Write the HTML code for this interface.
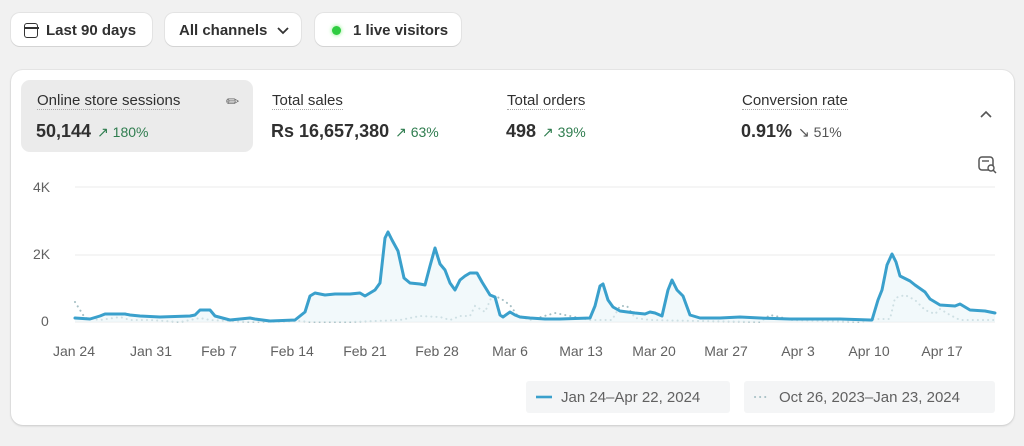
<!DOCTYPE html><html><head><style>
body{margin:0;width:1024px;height:446px;background:#f1f1f1;font-family:"Liberation Sans",sans-serif;position:relative;overflow:hidden;color:#303030}
.btn{position:absolute;top:13px;height:33px;background:#fff;border-radius:9px;box-shadow:0 1px 0 #d4d4d4,0 0 0 1px #e3e3e3;font-size:15px;font-weight:bold;line-height:35px;color:#303030}
.card{position:absolute;left:11px;top:70px;width:1003px;height:355px;background:#fff;border-radius:12px;box-shadow:0 1px 2px #ccc,0 0 0 1px #e6e6e6}
.t{position:absolute;font-size:15px;color:#303030}
.t u{text-decoration:none;border-bottom:1px dotted #aaa}
.v{position:absolute;font-size:18px;font-weight:bold;color:#303030}
.p{font-size:14px;font-weight:normal;color:#2f7d4f;margin-left:6px}
.ax{position:absolute;font-size:14px;color:#616161}
</style></head><body>
<div class="btn" style="left:11px;width:141px"><span style="position:absolute;left:13px;top:10px;width:12px;height:13px;border:1.6px solid #333;border-radius:3px"></span><span style="position:absolute;left:13px;top:14px;width:15px;height:1.6px;background:#333"></span><span style="position:absolute;left:35px">Last 90 days</span></div>
<div class="btn" style="left:165px;width:136px"><span style="position:absolute;left:14px">All channels</span><svg style="position:absolute;left:112px;top:12px" width="12" height="10"><polyline points="1,3 6,8 11,3" fill="none" stroke="#333" stroke-width="1.8"/></svg></div>
<div class="btn" style="left:315px;width:146px"><span style="position:absolute;left:17px;top:13px;width:9px;height:9px;border-radius:50%;background:#2ecc40;box-shadow:0 0 4px #7e7"></span><span style="position:absolute;left:38px">1 live visitors</span></div>
<div class="card"></div>
<div style="position:absolute;left:21px;top:80px;width:232px;height:72px;background:#ebebeb;border-radius:9px"></div>
<div class="t" style="left:37px;top:92px"><u>Online store sessions</u></div>
<div style="position:absolute;left:226px;top:92px;font-size:16px;color:#666">&#9999;&#xFE0E;</div>
<div class="v" style="left:36px;top:121px">50,144<span class="p">&#8599; 180%</span></div>
<div class="t" style="left:272px;top:92px"><u>Total sales</u></div>
<div class="v" style="left:271px;top:121px">Rs 16,657,380<span class="p">&#8599; 63%</span></div>
<div class="t" style="left:507px;top:92px"><u>Total orders</u></div>
<div class="v" style="left:506px;top:121px">498<span class="p">&#8599; 39%</span></div>
<div class="t" style="left:742px;top:92px"><u>Conversion rate</u></div>
<div class="v" style="left:741px;top:121px">0.91%<span class="p" style="color:#555">&#8600; 51%</span></div>
<svg style="position:absolute;left:979px;top:110px" width="14" height="10"><polyline points="2,7 7,2 12,7" fill="none" stroke="#555" stroke-width="1.6"/></svg>
<svg style="position:absolute;left:978px;top:156px" width="20" height="18"><rect x="1" y="1" width="14" height="13" rx="3" fill="none" stroke="#555" stroke-width="1.5"/><line x1="4" y1="5" x2="11" y2="5" stroke="#555" stroke-width="1.4"/><circle cx="13" cy="12" r="3" fill="#fff" stroke="#555" stroke-width="1.4"/><line x1="15" y1="14" x2="18" y2="17" stroke="#555" stroke-width="1.5"/></svg>
<div class="ax" style="left:33px;top:179px">4K</div>
<div class="ax" style="left:33px;top:246px">2K</div>
<div class="ax" style="left:41px;top:313px">0</div>
<svg width="1024" height="446" style="position:absolute;left:0;top:0">
<line x1="75" y1="187" x2="995" y2="187" stroke="#ebebeb"/>
<line x1="75" y1="255" x2="995" y2="255" stroke="#ebebeb"/>
<line x1="75" y1="322" x2="995" y2="322" stroke="#ebebeb"/>
<polyline fill="none" stroke="#a5bfc4" stroke-width="2" stroke-dasharray="0.1 5" stroke-linecap="round" points="75,302 80,310 85,318 100,320 120,317 130,320 150,320 180,322 200,318 210,320 250,322 300,321 310,322 350,322 400,320 420,316 440,317 450,320 460,316 470,316 475,306 480,309 485,312 492,296 500,298 510,305 517,315 530,320 555,313 570,316 590,320 612,320 620,306 627,306 635,318 650,320 700,321 760,322 770,315 780,317 790,320 860,322 875,319 890,319 895,298 905,295 915,300 925,310 935,314 940,309 950,315 960,320 995,320"/>
<polygon fill="#e9f5f9" opacity=".6" points="75,322 75,318 90,319 100,316 105,314 125,314 130,315 140,316 160,317 190,316 195,315 200,310 210,310 215,316 230,320 250,318 255,319 270,321 295,320 300,316 305,312 310,296 315,293 325,295 335,294 350,294 360,293 365,296 375,290 380,283 385,238 388,232 392,240 398,251 404,278 410,283 420,284 425,285 430,266 435,248 440,264 445,270 450,283 455,290 460,280 465,276 470,273 477,273 482,282 490,295 495,297 500,315 503,317 510,312 515,315 520,317 530,318 545,319 560,319 590,318 595,306 600,286 603,284 608,300 613,307 620,311 635,313 645,314 650,312 655,313 662,316 668,290 672,280 677,290 683,296 690,315 700,318 720,318 740,317 760,318 790,319 820,319 840,319 870,320 872,320 878,300 882,290 887,265 892,254 896,262 900,276 910,281 915,285 925,292 930,299 940,305 955,306 960,304 965,307 970,310 985,311 995,313 995,322"/>
<polyline fill="none" stroke="#3aa0cc" stroke-width="3" stroke-linejoin="round" stroke-linecap="round" points="75,318 90,319 100,316 105,314 125,314 130,315 140,316 160,317 190,316 195,315 200,310 210,310 215,316 230,320 250,318 255,319 270,321 295,320 300,316 305,312 310,296 315,293 325,295 335,294 350,294 360,293 365,296 375,290 380,283 385,238 388,232 392,240 398,251 404,278 410,283 420,284 425,285 430,266 435,248 440,264 445,270 450,283 455,290 460,280 465,276 470,273 477,273 482,282 490,295 495,297 500,315 503,317 510,312 515,315 520,317 530,318 545,319 560,319 590,318 595,306 600,286 603,284 608,300 613,307 620,311 635,313 645,314 650,312 655,313 662,316 668,290 672,280 677,290 683,296 690,315 700,318 720,318 740,317 760,318 790,319 820,319 840,319 870,320 872,320 878,300 882,290 887,265 892,254 896,262 900,276 910,281 915,285 925,292 930,299 940,305 955,306 960,304 965,307 970,310 985,311 995,313"/>
<g font-size="14" fill="#616161" text-anchor="middle" font-family="Liberation Sans,sans-serif">
<text x="74" y="356">Jan 24</text><text x="151" y="356">Jan 31</text><text x="219" y="356">Feb 7</text><text x="292" y="356">Feb 14</text><text x="365" y="356">Feb 21</text><text x="437" y="356">Feb 28</text><text x="510" y="356">Mar 6</text><text x="581" y="356">Mar 13</text><text x="654" y="356">Mar 20</text><text x="726" y="356">Mar 27</text><text x="798" y="356">Apr 3</text><text x="869" y="356">Apr 10</text><text x="942" y="356">Apr 17</text>
</g>
<rect x="526" y="381" width="204" height="32" rx="3" fill="#f4f5f6"/>
<rect x="744" y="381" width="251" height="32" rx="3" fill="#f4f5f6"/>
<line x1="536" y1="397" x2="552" y2="397" stroke="#3aa0cc" stroke-width="2.6"/>
<line x1="755" y1="397" x2="770" y2="397" stroke="#a5bfc4" stroke-width="2" stroke-dasharray="0.1 5" stroke-linecap="round"/>
<g font-size="15" fill="#616161" font-family="Liberation Sans,sans-serif"><text x="561" y="402">Jan 24–Apr 22, 2024</text><text x="779" y="402">Oct 26, 2023–Jan 23, 2024</text></g>
</svg>
</body></html>
